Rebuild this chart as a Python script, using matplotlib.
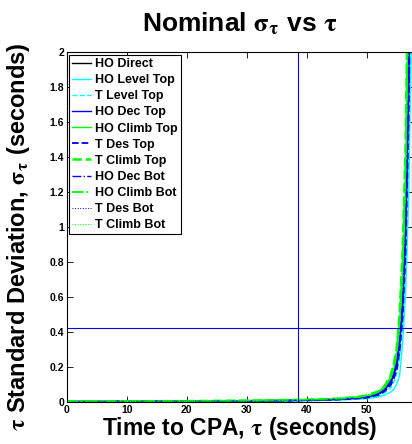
import matplotlib
matplotlib.use('Agg')
import matplotlib.pyplot as plt

# time to CPA grid (seconds) and sigma_tau
tau = [0, 10, 20, 30, 40, 45, 48, 50, 52, 53, 54, 54.5, 55, 55.5, 56, 56.5, 57, 57.5]

ho_direct = [0.001, 0.002, 0.003, 0.005, 0.009, 0.014, 0.020, 0.026, 0.045, 0.068,
             0.11, 0.15, 0.21, 0.33, 0.54, 0.95, 1.75, 3.2]
ho_level_top = [0.001, 0.001, 0.002, 0.004, 0.007, 0.010, 0.014, 0.018, 0.028, 0.038,
                0.055, 0.070, 0.10, 0.15, 0.33, 0.62, 1.15, 2.2]
t_level_top = [0.001, 0.002, 0.003, 0.004, 0.008, 0.012, 0.017, 0.022, 0.036, 0.052,
               0.08, 0.11, 0.16, 0.25, 0.44, 0.80, 1.5, 2.8]
ho_dec_top = [0.001, 0.002, 0.003, 0.005, 0.010, 0.015, 0.021, 0.028, 0.048, 0.072,
              0.12, 0.16, 0.23, 0.36, 0.58, 1.0, 1.85, 3.4]
ho_climb_top = [0.002, 0.002, 0.004, 0.006, 0.011, 0.016, 0.023, 0.031, 0.053, 0.080,
                0.13, 0.18, 0.26, 0.42, 0.70, 1.2, 2.2, 4.0]
t_des_top = [0.001, 0.002, 0.003, 0.004, 0.008, 0.012, 0.018, 0.023, 0.040, 0.060,
             0.095, 0.13, 0.18, 0.29, 0.48, 0.85, 1.6, 3.0]
t_climb_top = [0.002, 0.003, 0.004, 0.007, 0.012, 0.018, 0.026, 0.036, 0.060, 0.090,
               0.15, 0.21, 0.30, 0.50, 0.85, 1.45, 2.6, 4.5]
ho_dec_bot = [0.001, 0.002, 0.003, 0.005, 0.009, 0.014, 0.020, 0.027, 0.046, 0.070,
              0.115, 0.155, 0.22, 0.34, 0.56, 0.97, 1.8, 3.3]
ho_climb_bot = [0.002, 0.003, 0.004, 0.007, 0.012, 0.017, 0.025, 0.034, 0.058, 0.087,
                0.14, 0.20, 0.29, 0.47, 0.80, 1.38, 2.5, 4.3]
t_des_bot = [0.001, 0.002, 0.003, 0.004, 0.008, 0.013, 0.019, 0.024, 0.042, 0.063,
             0.10, 0.135, 0.19, 0.30, 0.50, 0.88, 1.65, 3.1]
t_climb_bot = [0.002, 0.003, 0.004, 0.007, 0.012, 0.018, 0.026, 0.035, 0.059, 0.089,
               0.145, 0.205, 0.30, 0.49, 0.83, 1.42, 2.55, 4.4]

tau_mark = 38.5
sigma_mark = 0.42

xticks = [0, 10, 20, 30, 40, 50]
yticks = [0, 0.2, 0.4, 0.6, 0.8, 1, 1.2, 1.4, 1.6, 1.8, 2]

plt.rcParams['font.family'] = ['Liberation Sans', 'DejaVu Sans']
plt.rcParams['font.weight'] = 'bold'
plt.rcParams['mathtext.fontset'] = 'stix'

blue = '#0000ff'
cyan = '#00ffff'
green = '#00ff00'

fig = plt.figure(figsize=(4.12, 4.44), dpi=100)
ax = fig.add_axes([0.162, 0.095, 0.837, 0.787])

ax.plot(tau, ho_direct, color='k', lw=1.0, label='HO Direct')
ax.plot(tau, ho_level_top, color=cyan, lw=1.0, label='HO Level Top')
ax.plot(tau, t_level_top, color=cyan, lw=1.0, ls='--', label='T Level Top')
ax.plot(tau, ho_dec_top, color=blue, lw=1.0, label='HO Dec Top')
ax.plot(tau, ho_climb_top, color=green, lw=1.0, label='HO Climb Top')
ax.plot(tau, t_des_top, color=blue, lw=1.3, ls='--', label='T Des Top')
ax.plot(tau, t_climb_top, color=green, lw=1.8, ls='--', label='T Climb Top')
ax.plot(tau, ho_dec_bot, color=blue, lw=1.0, ls='-.', label='HO Dec Bot')
ax.plot(tau, ho_climb_bot, color=green, lw=1.3, ls='-.', label='HO Climb Bot')
ax.plot(tau, t_des_bot, color=blue, lw=0.7, ls=':', label='T Des Bot')
ax.plot(tau, t_climb_bot, color=green, lw=0.7, ls=':', label='T Climb Bot')

ax.axvline(tau_mark, color=blue, lw=0.8)
ax.axhline(sigma_mark, color=blue, lw=0.8)

ax.set_xlim(0, 57.5)
ax.set_ylim(0, 2)
ax.set_xticks(xticks)
ax.set_xticklabels([str(v) for v in xticks])
ax.set_yticks(yticks)
ax.set_yticklabels(['0', '0.2', '0.4', '0.6', '0.8', '1', '1.2', '1.4', '1.6', '1.8', '2'])
ax.tick_params(direction='in', top=True, right=True, length=4, width=0.6,
               labelsize=7.5, pad=2)
for sp in ax.spines.values():
    sp.set_linewidth(0.8)

ax.set_title(r'Nominal $\mathrm{\sigma}_{\mathrm{\tau}}$ vs $\mathrm{\tau}$',
             fontsize=19, fontweight='bold', pad=15)
ax.set_xlabel(r'Time to CPA, $\mathrm{\tau}$ (seconds)', fontsize=16.5,
              fontweight='bold', labelpad=0)
ax.set_ylabel(r'$\mathrm{\tau}$ Standard Deviation, $\mathrm{\sigma}_{\mathrm{\tau}}$ (seconds)',
              fontsize=17, fontweight='bold')
ax.yaxis.set_label_coords(-0.10, 0.474)

leg = ax.legend(loc='upper left', fontsize=9, handlelength=1.5, handletextpad=0.3,
                labelspacing=0.33, borderpad=0.25, borderaxespad=0.2,
                fancybox=False, framealpha=1, edgecolor='k')
leg.get_frame().set_linewidth(0.8)

fig.savefig('out.png', dpi=100)
